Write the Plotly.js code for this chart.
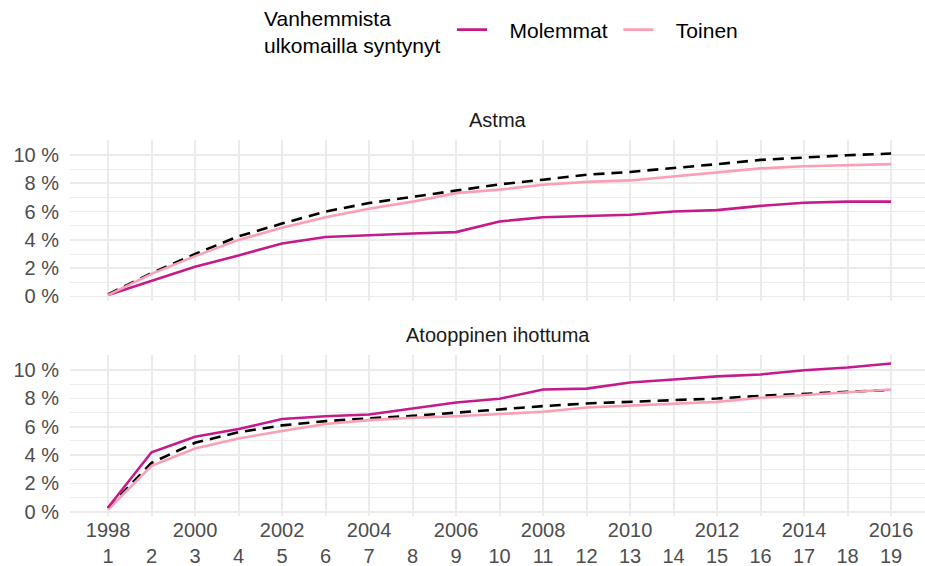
<!DOCTYPE html>
<html>
<head>
<meta charset="utf-8">
<script src="https://cdn.plot.ly/plotly-3.0.1.min.js"></script>
<style>html,body{margin:0;padding:0;background:#fff}#chart{width:925px;height:566px}</style>
</head>
<body>
<div id="chart"></div>
<script>
// Data
var years = [1998,1999,2000,2001,2002,2003,2004,2005,2006,2007,2008,2009,2010,2011,2012,2013,2014,2015,2016];
var yearIndex = ["1","2","3","4","5","6","7","8","9","10","11","12","13","14","15","16","17","18","19"];
var yTickVals = [0,2,4,6,8,10];
var yTickText = ["0 %","2 %","4 %","6 %","8 %","10 %"];
var seriesNames = ["Molemmat", "Toinen"];
var panelTitles = ["Astma", "Atooppinen ihottuma"];
var legendTitle = "Vanhemmista<br>ulkomailla syntynyt";

// Astma (%)
var astmaMolemmat = [0.1,1.1,2.1,2.9,3.75,4.2,4.35,4.45,4.55,5.3,5.6,5.67,5.77,6.0,6.1,6.4,6.62,6.7,6.7];
var astmaToinen   = [0.1,1.6,2.85,4.0,4.85,5.6,6.2,6.7,7.3,7.55,7.9,8.1,8.2,8.5,8.8,9.05,9.2,9.3,9.35];
var astmaKaikki   = [0.15,1.65,3.0,4.25,5.15,6.0,6.6,7.05,7.5,7.92,8.25,8.6,8.8,9.05,9.35,9.65,9.83,9.98,10.1];

// Atooppinen ihottuma (%)
var ihoMolemmat = [0.3,4.2,5.3,5.84,6.55,6.75,6.87,7.3,7.72,7.98,8.64,8.7,9.13,9.34,9.56,9.7,10.0,10.19,10.47];
var ihoToinen   = [0.15,3.25,4.47,5.18,5.7,6.2,6.47,6.64,6.75,6.92,7.06,7.36,7.48,7.65,7.76,8.05,8.24,8.42,8.64];
var ihoKaikki   = [0.25,3.45,4.87,5.62,6.1,6.4,6.6,6.77,7.0,7.25,7.46,7.65,7.76,7.88,8.0,8.19,8.35,8.47,8.6];

var colMol = "#c51b8a", colToi = "#fa9fb5";
var FONT = "Liberation Sans, Arial, sans-serif";

var tickText = years.map(function(y, i){ return (i % 2 === 0 ? String(y) : " ") + "<br>" + yearIndex[i]; });

function dashed(y, xa, ya){
  return {x: years, y: y, xaxis: xa, yaxis: ya, type: "scatter", mode: "lines",
    line: {color: "#000", width: 2.6, dash: "11px,7px"}, showlegend: false, hoverinfo: "skip"};
}
function solid(y, xa, ya, name, col, show){
  return {x: years, y: y, xaxis: xa, yaxis: ya, type: "scatter", mode: "lines",
    name: "\u00a0\u00a0\u00a0" + name + "\u00a0", legendgroup: name, showlegend: show,
    line: {color: col, width: 2.6}};
}

var traces = [
  dashed(astmaKaikki, "x", "y"),
  solid(astmaMolemmat, "x", "y", seriesNames[0], colMol, true),
  solid(astmaToinen, "x", "y", seriesNames[1], colToi, true),
  dashed(ihoKaikki, "x2", "y2"),
  solid(ihoToinen, "x2", "y2", seriesNames[1], colToi, false),
  solid(ihoMolemmat, "x2", "y2", seriesNames[0], colMol, false)
];

var xr = [1997.126, 2016.78];
var yr = [-0.3, 11.05];
function xaxis(showLabels){
  return {range: xr, tickmode: "array", tickvals: years, ticktext: tickText, showticklabels: showLabels,
    showgrid: true, gridcolor: "#ebebeb", gridwidth: 2, zeroline: false, showline: false, ticks: "",
    tickfont: {family: FONT, size: 20, color: "#4d4d4d"}, fixedrange: true};
}
function yaxis(domain){
  return {range: yr, domain: domain, tickmode: "array", tickvals: yTickVals, ticktext: yTickText,
    showgrid: true, gridcolor: "#ebebeb", gridwidth: 1.8, zeroline: false, showline: false, ticks: "",
    minor: {tickmode: "array", tickvals: [1,3,5,7,9,11], showgrid: true, gridcolor: "#ebebeb", gridwidth: 0.9},
    ticklabelstandoff: 10, tickfont: {family: FONT, size: 20, color: "#4d4d4d"}, fixedrange: true};
}

var layout = {
  width: 925, height: 566,
  margin: {l: 70, r: 0, t: 0, b: 50},
  paper_bgcolor: "#fff", plot_bgcolor: "#fff",
  font: {family: FONT, color: "#1a1a1a"},
  xaxis: Object.assign(xaxis(false), {anchor: "y"}),
  yaxis: Object.assign(yaxis([0.4172, 0.7285]), {anchor: "x"}),
  xaxis2: Object.assign(xaxis(true), {anchor: "y2"}),
  yaxis2: Object.assign(yaxis([0, 0.3114]), {anchor: "x2"}),
  showlegend: true,
  legend: {orientation: "h", x: (452 - 70) / 855, xanchor: "left", y: (516 - 30) / 516, yanchor: "middle",
    font: {family: FONT, size: 21, color: "#000"}, traceorder: "normal", itemwidth: 30},
  annotations: [
    {text: legendTitle, xref: "paper", yref: "paper", x: (262 - 70) / 855, y: (516 - 32) / 516,
     xanchor: "left", yanchor: "middle", align: "left", showarrow: false,
     font: {family: FONT, size: 21, color: "#000"}},
    {text: panelTitles[0], xref: "paper", yref: "paper", x: 0.5, y: 0.7674, xanchor: "center", yanchor: "middle",
     showarrow: false, font: {family: FONT, size: 20, color: "#1a1a1a"}},
    {text: panelTitles[1], xref: "paper", yref: "paper", x: 0.5, y: 0.3508, xanchor: "center", yanchor: "middle",
     showarrow: false, font: {family: FONT, size: 20, color: "#1a1a1a"}}
  ]
};

Plotly.newPlot("chart", traces, layout, {displayModeBar: false, staticPlot: true});
</script>
</body>
</html>
